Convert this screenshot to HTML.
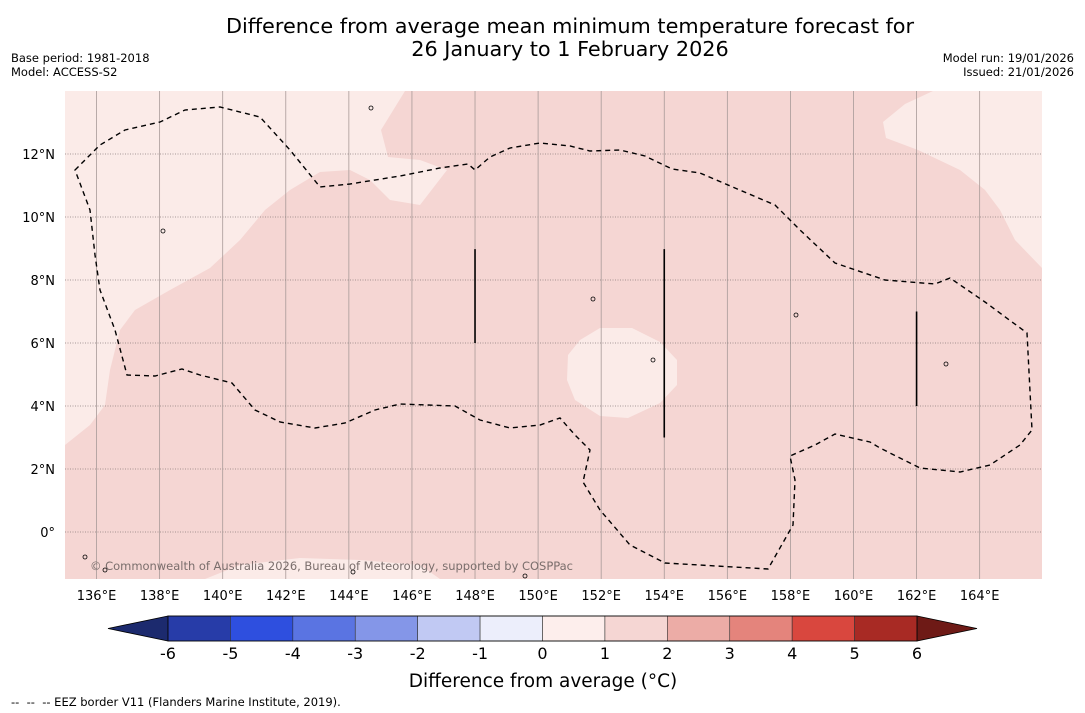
<!DOCTYPE html>
<html><head><meta charset="utf-8">
<style>
body{margin:0;background:#fff;font-family:"Liberation Sans","DejaVu Sans",sans-serif;}
#wrap{position:relative;width:1085px;height:713px;overflow:hidden;background:#fff;}
.t{position:absolute;color:#000;}
</style></head>
<body>
<div id="wrap">
<div class="t" style="left:0;width:1140px;top:15px;text-align:center;font-size:20.8px;line-height:23px;font-family:'DejaVu Sans',sans-serif;">Difference from average mean minimum temperature forecast for<br>26 January to 1 February 2026</div>
<div class="t" style="left:11px;top:51px;font-size:11.5px;line-height:14px;font-family:'DejaVu Sans',sans-serif;">Base period: 1981-2018<br>Model: ACCESS-S2</div>
<div class="t" style="right:11px;top:51px;font-size:11.5px;line-height:14px;text-align:right;font-family:'DejaVu Sans',sans-serif;">Model run: 19/01/2026<br>Issued: 21/01/2026</div>
<div class="t" style="left:11px;top:695px;font-size:11.5px;font-family:'DejaVu Sans',sans-serif;">-- &nbsp;-- &nbsp;-- EEZ border V11 (Flanders Marine Institute, 2019).</div>
<svg id="svg" width="1085" height="713" style="position:absolute;left:0;top:0" font-family="DejaVu Sans, Liberation Sans, sans-serif"></svg>
</div>
<script>
const lonTicks=[136,138,140,142,144,146,148,150,152,154,156,158,160,162,164];
const latTicks=[12,10,8,6,4,2,0];
const cbLevels=[-6,-5,-4,-3,-2,-1,0,1,2,3,4,5,6];
const cbColors=["#273ca8","#2e4fdf","#5a74e2","#8496e8","#c1c9f3","#eceefb","#fdeeec","#f5d6d3","#ecaca6","#e4847c","#d9473e","#a82a24"];
const cbExtColors=["#1c2a6e","#6e1a16"];
const NS="http://www.w3.org/2000/svg";
const svg=document.getElementById('svg');
function el(tag,attrs,parent){const e=document.createElementNS(NS,tag);for(const k in attrs)e.setAttribute(k,attrs[k]);(parent||svg).appendChild(e);return e;}
const X0=65,X1=1042,Y0=91,Y1=579;
const lon0=135.0,pxPerLon=31.54,lat0=14.0,pxPerLat=31.5;
function x(lon){return X0+(lon-lon0)*pxPerLon;}
function y(lat){return Y0+(lat0-lat)*pxPerLat;}
const map=el('g',{});


el('rect',{x:X0,y:Y0,width:X1-X0,height:Y1-Y0,fill:'#f5d6d3'},map);
const clip=el('clipPath',{id:'mc'});el('rect',{x:X0,y:Y0,width:X1-X0,height:Y1-Y0},clip);
const g=el('g',{'clip-path':'url(#mc)'},map);
const light="#fbebe8";
const polys=[
"65,91 405,91 381,130 388,157 420,160 447,170 420,205 390,200 370,180 350,170 320,172 290,190 265,210 240,240 210,268 170,290 135,310 120,330 110,370 105,405 90,425 65,445",
"933,91 905,104 883,122 886,138 918,150 960,170 985,190 1000,210 1015,240 1042,268 1042,91",
"600,328 632,328 660,342 677,360 677,385 660,403 628,418 600,416 575,400 567,380 568,355 580,340",
"205,579 240,565 300,558 360,560 420,565 440,579"];
polys.forEach((p,i)=>{const e=el('polygon',{points:p,fill:light},g);});
lonTicks.forEach(l=>{el('line',{x1:x(l),x2:x(l),y1:Y0,y2:Y1,stroke:'#a89a98','stroke-width':0.8},g);});
latTicks.forEach(l=>{el('line',{x1:X0,x2:X1,y1:y(l),y2:y(l),stroke:'#8a7e7c','stroke-width':0.8,'stroke-dasharray':'1,1.5'},g);});
const eez="75,170 100,145 125,130 160,122 185,110 220,107 260,117 290,150 320,187 350,184 400,176 440,168 468,164 475,170 490,157 510,148 540,143 570,146 590,151 620,150 645,156 672,169 700,173 735,188 775,205 800,230 835,263 885,280 935,284 950,278 985,302 1027,333 1032,430 1020,445 990,465 960,472 920,468 880,448 870,442 835,434 815,445 790,456 795,480 793,525 768,569 665,563 630,545 600,510 583,482 590,450 575,435 560,418 540,425 510,428 480,420 455,406 400,404 375,410 345,423 315,428 280,422 255,410 232,383 200,375 182,369 155,376 127,375 115,330 100,290 95,255 90,210 75,170";
const ez=el('polygon',{points:eez,fill:'none',stroke:'#000','stroke-width':1.4,'stroke-dasharray':'5,4'},g);


[[148,8.98,6],[154,8.98,3],[162,7,4]].forEach(v=>{el('line',{x1:x(v[0]),x2:x(v[0]),y1:y(v[1]),y2:y(v[2]),stroke:'#000','stroke-width':1.6},g);});
[[371,108],[163,231],[593,299],[796,315],[946,364],[653,360],[85,557],[105,570],[353,572],[525,576]].forEach(p=>{el('circle',{cx:p[0],cy:p[1],r:2,fill:'none',stroke:'#000','stroke-width':0.8},g);});
const cr=el('text',{x:90,y:570,'font-size':11.5,fill:'#7a6e6c',textLength:483},g);
cr.textContent='© Commonwealth of Australia 2026, Bureau of Meteorology, supported by COSPPac';


lonTicks.forEach(l=>{const t=el('text',{x:x(l),y:600,'font-size':13,'text-anchor':'middle'});t.textContent=l+'°E';

});
latTicks.forEach(l=>{const t=el('text',{x:55,y:y(l)+5,'font-size':13,'text-anchor':'end'});t.textContent=l===0?'0°':l+'°N';

});
const CB0=168,CB1=917,CBY=616,CBH=25;
function cx(v){return CB0+(v-cbLevels[0])/(cbLevels[cbLevels.length-1]-cbLevels[0])*(CB1-CB0);}
const cb=el('g',{});


el('polygon',{points:`${CB0},${CBY} 108,${CBY+CBH/2} ${CB0},${CBY+CBH}`,fill:cbExtColors[0],stroke:'#000','stroke-width':0.8},cb);
el('polygon',{points:`${CB1},${CBY} 977,${CBY+CBH/2} ${CB1},${CBY+CBH}`,fill:cbExtColors[1],stroke:'#000','stroke-width':0.8},cb);
cbColors.forEach((c,i)=>{const r=el('rect',{x:cx(cbLevels[i]),y:CBY,width:cx(cbLevels[i+1])-cx(cbLevels[i]),height:CBH,fill:c,stroke:'#333','stroke-width':0.6},cb);

});
el('rect',{x:CB0,y:CBY,width:CB1-CB0,height:CBH,fill:'none',stroke:'#000','stroke-width':0.8},cb);
cbLevels.forEach(v=>{const t=el('text',{x:cx(v),y:659,'font-size':16,'text-anchor':'middle'},cb);t.textContent=v;

});
const ct=el('text',{x:543,y:687,'font-size':18.5,'text-anchor':'middle'});
ct.textContent='Difference from average (°C)';


</script>
</body></html>
